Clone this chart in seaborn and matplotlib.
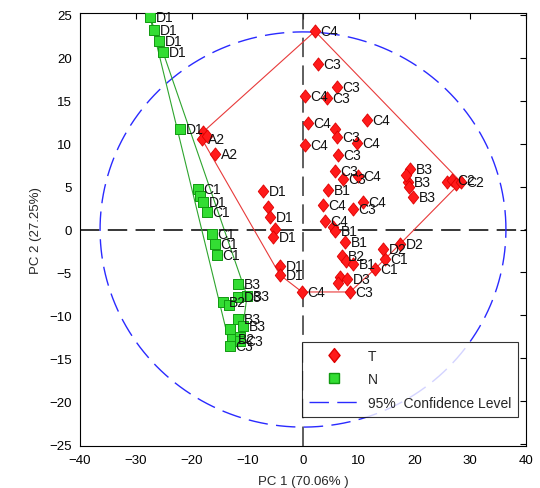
import numpy as np
import pandas as pd
import matplotlib
matplotlib.use('Agg')
import matplotlib.pyplot as plt
import seaborn as sns
from matplotlib.path import Path
from matplotlib.lines import Line2D

# ---- data ----
t_x = [2.15, 2.69, 0.36, 4.30, 6.10, 0.90, 11.48, 0.36, 5.74, 6.10, 9.69, 6.28,
       5.74, 7.17, 9.87, 4.48, 19.19, 18.83, 19.73, 18.48, 19.01, 25.83, 26.73,
       27.44, 28.34, 3.59, 10.76, 8.97, 3.95, 5.38, 5.74, 7.53, 7.00, 7.71, 8.97,
       14.71, 12.91, 14.35, 17.40, 6.64, 7.89, 6.28, 8.43, -0.18, -7.17, -6.28,
       -5.92, -5.02, -5.38, -4.13, -4.13, -17.94, -18.12, -17.22, -15.78]
t_y = [23.08, 19.24, 15.52, 15.29, 16.57, 12.38, 12.73, 9.83, 11.69, 10.76, 10.06,
       8.66, 6.80, 5.87, 6.22, 4.59, 7.03, 5.52, 3.78, 6.34, 4.94, 5.52, 5.76,
       5.29, 5.52, 2.85, 3.20, 2.38, 0.99, 0.29, -0.17, -1.45, -3.08, -3.66,
       -4.01, -3.43, -4.59, -2.27, -1.69, -5.52, -5.76, -6.22, -7.27, -7.27,
       4.48, 2.62, 1.45, 0.06, -0.87, -4.24, -5.29, 11.34, 10.52, 10.87, 8.78]
t_lab = ['C4', 'C3', 'C4', 'C3', 'C3', 'C4', 'C4', 'C4', '', 'C3', 'C4', 'C3',
         'C3', 'C3', 'C4', 'B1', 'B3', 'B3', 'B3', '', '', '', 'C2',
         '', 'C2', 'C4', 'C4', 'C3', 'C4', '', 'B1', 'B1', 'B2', '', 'B1',
         'C1', 'C1', 'D2', 'D2', '', 'D3', '', 'C3', 'C4', 'D1', '',
         'D1', '', 'D1', 'D1', 'D1', '', 'A2', '', 'A2']

n_x = [-27.44, -26.73, -25.83, -25.11, -22.06, -18.83, -18.48, -17.94, -17.22,
       -16.32, -15.78, -15.43, -11.66, -11.66, -10.04, -14.35, -13.27, -11.66,
       -10.76, -13.09, -12.74, -11.30, -11.30, -13.09]
n_y = [24.71, 23.20, 21.92, 20.64, 11.69, 4.71, 3.90, 3.20, 2.03, -0.52, -1.69,
       -2.97, -6.34, -7.85, -7.73, -8.43, -8.78, -10.41, -11.22, -11.57, -12.73,
       -12.50, -12.97, -13.55]
n_lab = ['D1', 'D1', 'D1', 'D1', 'D1', 'C1', '', 'D1', 'C1', 'C1', 'C1', 'C1',
         'B3', 'D3', 'B3', 'B2', '', 'B3', 'B3', '', 'B2', '', 'C3', 'C3']

ell_a, ell_b = 36.4, 23.0
x_ticks = [-40, -30, -20, -10, 0, 10, 20, 30, 40]
y_ticks = [-25, -20, -15, -10, -5, 0, 5, 10, 15, 20, 25]
legend_labels = ['T', 'N', '95%  Confidence Level']


def hull(xs, ys):
    pts = sorted(set(zip(xs, ys)))
    def cross(o, a, b):
        return (a[0]-o[0])*(b[1]-o[1]) - (a[1]-o[1])*(b[0]-o[0])
    lower, upper = [], []
    for p in pts:
        while len(lower) >= 2 and cross(lower[-2], lower[-1], p) <= 0:
            lower.pop()
        lower.append(p)
    for p in reversed(pts):
        while len(upper) >= 2 and cross(upper[-2], upper[-1], p) <= 0:
            upper.pop()
        upper.append(p)
    h = lower[:-1] + upper[:-1]
    h.append(h[0])
    return [p[0] for p in h], [p[1] for p in h]


sns.set_theme(style='white')
plt.rcParams['font.family'] = ['Liberation Sans', 'DejaVu Sans']
plt.rcParams['lines.scale_dashes'] = False

fig = plt.figure(figsize=(5.4, 4.89), dpi=100)
ax = fig.add_axes([80/540, 1-447/489, 446/540, 433/489])

dash = (0, (14, 6))

# zero lines
ax.axhline(0, color='black', lw=1.1, linestyle=dash, zorder=1)
ax.axvline(0, color='#333333', lw=1.1, linestyle=dash, zorder=1)

# confidence ellipse
th = np.linspace(0, 2*np.pi, 400)
ax.plot(ell_a*np.cos(th), ell_b*np.sin(th), color='#2a2aff', lw=1.0,
        linestyle=dash, zorder=1)

# hulls
hx, hy = hull(t_x, t_y)
ax.plot(hx, hy, color='#e83a3a', lw=0.8, zorder=2)
gx, gy = hull(n_x, n_y)
ax.plot(gx, gy, color='#2ea52e', lw=0.8, zorder=2)

diamond = Path([(0, 1), (0.8, 0), (0, -1), (-0.8, 0), (0, 1)],
               [Path.MOVETO, Path.LINETO, Path.LINETO, Path.LINETO, Path.CLOSEPOLY])

df_t = pd.DataFrame({'x': t_x, 'y': t_y})
df_n = pd.DataFrame({'x': n_x, 'y': n_y})
sns.scatterplot(data=df_n, x='x', y='y', marker='s', s=58, color='#33dd33',
                edgecolor='#119911', linewidth=0.7, ax=ax, legend=False, zorder=3)
sns.scatterplot(data=df_t, x='x', y='y', marker=diamond, s=90, color='#ff1a1a',
                edgecolor='#dd0000', linewidth=0.6, ax=ax, legend=False, zorder=4)

for x, y, l in zip(t_x, t_y, t_lab):
    if l:
        ax.annotate(l, (x, y), xytext=(4, 0), textcoords='offset points',
                    va='center', ha='left', fontsize=10, color='#111111', zorder=5)
for x, y, l in zip(n_x, n_y, n_lab):
    if l:
        ax.annotate(l, (x, y), xytext=(4, 0), textcoords='offset points',
                    va='center', ha='left', fontsize=10, color='#111111', zorder=5)

ax.set_xlim(-40, 40)
ax.set_ylim(-25.2, 25.2)
ax.set_xticks(x_ticks)
ax.set_yticks(y_ticks)
ax.tick_params(direction='in', top=True, right=True, length=4, width=0.8,
               labelsize=9.5, colors='black', pad=6)
for sp in ax.spines.values():
    sp.set_color('black')
    sp.set_linewidth(0.8)
ax.set_xlabel('PC 1 (70.06% )', fontsize=9.5, labelpad=6)
ax.set_ylabel('PC 2 (27.25%)', fontsize=9.5, labelpad=5)

handles = [
    Line2D([], [], marker=diamond, markersize=10, color='none',
           markerfacecolor='#ff1a1a', markeredgecolor='#dd0000', linestyle='none'),
    Line2D([], [], marker='s', markersize=7.5, color='none',
           markerfacecolor='#33dd33', markeredgecolor='#119911', linestyle='none'),
    Line2D([], [], color='#2a2aff', lw=1.0, linestyle=(0, (14, 6))),
]
leg = ax.legend(handles, legend_labels, loc='lower right',
                bbox_to_anchor=(0.982, 0.067), borderaxespad=0, fontsize=10,
                handlelength=3.5, handletextpad=0.7, labelspacing=0.7,
                borderpad=0.5, frameon=True, fancybox=False)
leg.get_frame().set_edgecolor('black')
leg.get_frame().set_linewidth(0.8)

fig.savefig('out.png', dpi=100)
